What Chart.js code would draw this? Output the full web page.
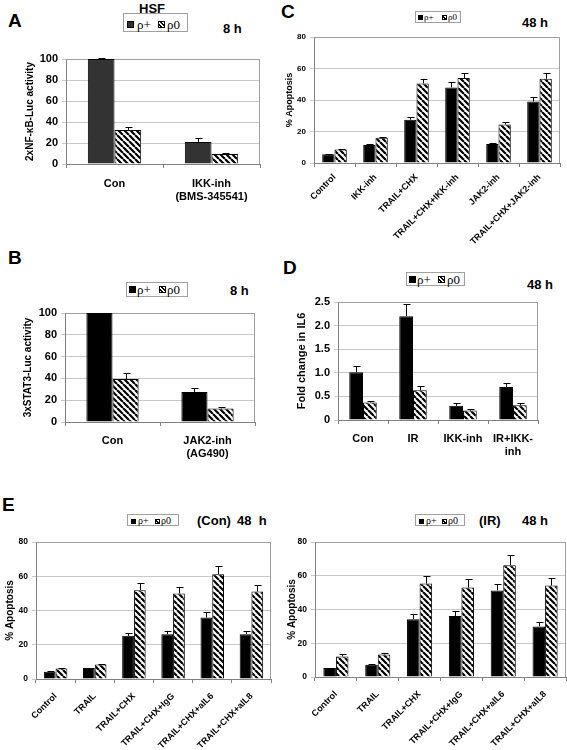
<!DOCTYPE html>
<html>
<head>
<meta charset="utf-8">
<script src="https://cdn.jsdelivr.net/npm/chart.js@4.4.1/dist/chart.umd.min.js"></script>
<style>
  body { margin: 0; background: #fff; width: 567px; height: 750px; position: relative; overflow: hidden;
         font-family: "Liberation Sans", Arial, sans-serif; }
  canvas { position: absolute; }
  .t { position: absolute; font-weight: bold; white-space: nowrap; color: #000; line-height: 1; }
  .letter { font-size: 19px; }
  .leg { position: absolute; border: 1px solid #a0a0a0; box-sizing: border-box; white-space: nowrap;
         font-family: "Liberation Serif", "DejaVu Serif", serif; color: #000; line-height: 1; }
  .leg span { position: absolute; }
  .sw { border: 1px solid #000; box-sizing: border-box; }
  .hat { background: repeating-linear-gradient(45deg, #fff 0 1.2px, #000 1.2px 2.6px); }
</style>
</head>
<body>

<div class="t letter" style="left:8px;top:11px">A</div>
<div class="t" style="left:139px;top:2px;font-size:13px">HSF</div>
<div class="leg" style="left:123px;top:13px;width:65px;height:19px;font-size:13px">
  <span class="sw" style="left:3px;top:7px;width:7px;height:7px;background:#333"></span>
  <span style="left:13px;top:4px">ρ+</span>
  <span class="sw hat" style="left:34px;top:7px;width:7px;height:7px"></span>
  <span style="left:43px;top:4px">ρ0</span>
</div>
<div class="t" style="left:223px;top:22px;font-size:13px">8 h</div>

<div class="t letter" style="left:8px;top:248px">B</div>
<div class="leg" style="left:126px;top:282px;width:62px;height:15px;font-size:13px">
  <span class="sw" style="left:2px;top:3px;width:7px;height:7px;background:#000"></span>
  <span style="left:10px;top:0px">ρ+</span>
  <span class="sw hat" style="left:32px;top:3px;width:7px;height:7px"></span>
  <span style="left:40px;top:0px">ρ0</span>
</div>
<div class="t" style="left:230px;top:284px;font-size:13px">8 h</div>

<div class="t letter" style="left:281px;top:2px">C</div>
<div class="leg" style="left:415px;top:11px;width:46px;height:12px;font-size:9px">
  <span class="sw" style="left:2px;top:3px;width:5px;height:5px;background:#000"></span>
  <span style="left:8px;top:1px">ρ+</span>
  <span class="sw hat" style="left:26px;top:3px;width:5px;height:5px"></span>
  <span style="left:32px;top:1px">ρ0</span>
</div>
<div class="t" style="left:522px;top:16px;font-size:13px">48 h</div>

<div class="t letter" style="left:283px;top:258px">D</div>
<div class="leg" style="left:406px;top:272px;width:59px;height:14px;font-size:13px">
  <span class="sw" style="left:2px;top:3px;width:7px;height:7px;background:#000"></span>
  <span style="left:10px;top:0px">ρ+</span>
  <span class="sw hat" style="left:31px;top:3px;width:7px;height:7px"></span>
  <span style="left:40px;top:0px">ρ0</span>
</div>
<div class="t" style="left:527px;top:278px;font-size:13px">48 h</div>

<div class="t letter" style="left:2px;top:495px">E</div>
<div class="leg" style="left:127px;top:514px;width:52px;height:12px;font-size:10px">
  <span class="sw" style="left:3px;top:4px;width:5px;height:5px;background:#000"></span>
  <span style="left:10px;top:1px">ρ+</span>
  <span class="sw hat" style="left:27px;top:4px;width:5px;height:5px"></span>
  <span style="left:33px;top:1px">ρ0</span>
</div>
<div class="t" style="left:197px;top:514px;font-size:13px">(Con)</div>
<div class="t" style="left:237px;top:514px;font-size:13px">48&nbsp;&nbsp;h</div>

<div class="leg" style="left:415px;top:514px;width:50px;height:12px;font-size:10px">
  <span class="sw" style="left:3px;top:4px;width:5px;height:5px;background:#000"></span>
  <span style="left:10px;top:1px">ρ+</span>
  <span class="sw hat" style="left:26px;top:4px;width:5px;height:5px"></span>
  <span style="left:32px;top:1px">ρ0</span>
</div>
<div class="t" style="left:479px;top:514px;font-size:13px">(IR)</div>
<div class="t" style="left:522px;top:514px;font-size:13px">48 h</div>

<script>
// ---- data ----
const seriesNames = ['ρ+', 'ρ0'];

// A: NF-kB reporter, 8 h
const aLabels = ['Con', ['IKK-inh', '(BMS-345541)']];
const aPlus = [100, 21];
const aPlusErr = [0.5, 4];
const aZero = [32.5, 9.5];
const aZeroErr = [3.2, 1.2];

// B: STAT3 reporter, 8 h
const bLabels = ['Con', ['JAK2-inh', '(AG490)']];
const bPlus = [100, 27.5];
const bPlusErr = [0.3, 3.5];
const bZero = [39.5, 12.5];
const bZeroErr = [5, 1.6];

// C: apoptosis, 48 h
const cLabels = ['Control', 'IKK-inh', 'TRAIL+CHX', 'TRAIL+CHX+IKK-inh', 'JAK2-inh', 'TRAIL+CHX+JAK2-inh'];
const cPlus = [5.5, 11.5, 27.5, 48, 12, 39];
const cPlusErr = [0.3, 0.4, 1.8, 3.6, 0.6, 3];
const cZero = [8.5, 16, 50.5, 54, 24.5, 53.5];
const cZeroErr = [0.5, 0.5, 3, 3.4, 1.3, 3.4];

// D: IL6 fold change, 48 h
const dLabels = ['Con', 'IR', 'IKK-inh', ['IR+IKK-', 'inh']];
const dPlus = [1.01, 2.2, 0.3, 0.7];
const dPlusErr = [0.13, 0.26, 0.05, 0.09];
const dZero = [0.37, 0.63, 0.2, 0.31];
const dZeroErr = [0.04, 0.09, 0.04, 0.05];

// E: apoptosis, 48 h, (Con) and (IR)
const eLabels = ['Control', 'TRAIL', 'TRAIL+CHX', 'TRAIL+CHX+IgG', 'TRAIL+CHX+aIL6', 'TRAIL+CHX+aIL8'];
const eConPlus = [4.3, 6.4, 25.2, 26.2, 35.9, 26.2];
const eConPlusErr = [0.3, 0.3, 1.6, 2.1, 3.1, 2.1];
const eConZero = [6.2, 8.5, 51.8, 49.9, 61.2, 51.1];
const eConZeroErr = [0.3, 0.4, 4.5, 4.1, 4.6, 4];
const eIrPlus = [5.3, 7.3, 34.2, 36.1, 51.3, 30];
const eIrPlusErr = [0.3, 0.6, 2.9, 3, 4.1, 2.6];
const eIrZero = [12.2, 13.4, 55.4, 53, 66.2, 54.2];
const eIrZeroErr = [1.2, 1.1, 4.7, 5, 6.1, 4.7];

// ---- helpers ----
function hatch(s, w) {
  const c = document.createElement('canvas');
  c.width = c.height = s;
  const g = c.getContext('2d');
  g.fillStyle = '#fff';
  g.fillRect(0, 0, s, s);
  g.strokeStyle = '#000';
  g.lineWidth = w;
  g.beginPath();
  for (let k = -1; k <= 1; k++) { g.moveTo(k * s, 0); g.lineTo(k * s + s, s); }
  g.stroke();
  return g.createPattern(c, 'repeat');
}

// one-sided error bars, drawn through the y scale
const errorBars = {
  id: 'errorBars',
  afterDatasetsDraw(chart) {
    const ctx = chart.ctx, y = chart.scales.y;
    chart.data.datasets.forEach((ds, i) => {
      chart.getDatasetMeta(i).data.forEach((bar, j) => {
        const e = ds.errors[j];
        if (!e) return;
        const x = Math.round(bar.x) + 0.5;
        const top = Math.round(y.getPixelForValue(ds.data[j] + e)) + 0.5;
        ctx.save();
        ctx.strokeStyle = '#000';
        ctx.lineWidth = 1;
        ctx.beginPath();
        ctx.moveTo(x, bar.y);
        ctx.lineTo(x, top);
        ctx.moveTo(x - 3, top);
        ctx.lineTo(x + 4, top);
        ctx.stroke();
        ctx.restore();
      });
    });
  }
};

// grey plot-area frame (Excel style)
const frame = {
  id: 'frame',
  beforeDatasetsDraw(chart) {
    const a = chart.chartArea, ctx = chart.ctx;
    ctx.save();
    ctx.strokeStyle = '#a0a0a0';
    ctx.lineWidth = 1;
    ctx.beginPath();
    ctx.moveTo(Math.round(a.left) + 0.5, Math.round(a.top) + 0.5);
    ctx.lineTo(Math.round(a.right) - 0.5, Math.round(a.top) + 0.5);
    ctx.lineTo(Math.round(a.right) - 0.5, Math.round(a.bottom));
    ctx.stroke();
    ctx.restore();
  }
};

function panel(box, plot, o) {
  const cv = document.createElement('canvas');
  cv.width = box.w; cv.height = box.h;
  cv.style.left = box.x + 'px';
  cv.style.top = box.y + 'px';
  document.body.appendChild(cv);
  const yW = plot.l - box.x;
  const xH = box.y + box.h - plot.b;
  const tf = o.titleSize;
  new Chart(cv, {
    type: 'bar',
    data: {
      labels: o.labels,
      datasets: [
        { label: seriesNames[0], data: o.plus, errors: o.plusErr, backgroundColor: o.dark || '#000',
          borderColor: '#000', borderWidth: 1 },
        { label: seriesNames[1], data: o.zero, errors: o.zeroErr, backgroundColor: hatch(o.hs, o.hw),
          borderColor: '#000', borderWidth: 1 }
      ]
    },
    options: {
      responsive: false,
      animation: false,
      layout: { padding: { left: 0, top: plot.t - box.y, right: box.x + box.w - plot.r, bottom: 0 } },
      plugins: { legend: { display: false }, tooltip: { enabled: false } },
      datasets: { bar: { categoryPercentage: o.cat, barPercentage: 1 } },
      scales: {
        x: {
          afterFit(s) { s.height = xH; },
          grid: { offset: true, drawOnChartArea: false, color: '#808080', tickLength: 4 },
          border: { color: '#808080' },
          ticks: { color: '#000', font: { family: 'Liberation Sans', weight: 'bold', size: o.xSize },
                   maxRotation: o.rot, minRotation: o.rot, autoSkip: false, padding: o.xPad }
        },
        y: {
          min: 0, max: o.max,
          afterFit(s) { s.width = yW; },
          grid: { color: '#c8c8c8', tickLength: 4 },
          border: { color: '#808080' },
          ticks: { stepSize: o.step, color: '#000', padding: 4,
                   font: { family: 'Liberation Sans', weight: 'bold', size: o.ySize } },
          title: { display: true, text: o.ytitle, color: '#000',
                   font: { family: 'Liberation Sans', weight: 'bold', size: tf },
                   padding: { top: o.titleX - box.x - tf * 0.6, bottom: 0 } }
        }
      }
    },
    plugins: [frame, errorBars]
  });
}

// A
panel({ x: 15, y: 45, w: 255, h: 161 }, { l: 66, t: 59, r: 260, b: 164 }, {
  labels: aLabels, plus: aPlus, plusErr: aPlusErr, zero: aZero, zeroErr: aZeroErr, dark: '#333',
  max: 100, step: 20, ytitle: '2xNF-κB-Luc activity', titleX: 30, titleSize: 10,
  ySize: 11, xSize: 11, xPad: 9, rot: 0, cat: 0.55, hs: 6, hw: 2.2
});

// B
panel({ x: 15, y: 300, w: 250, h: 162 }, { l: 65, t: 313, r: 255, b: 422 }, {
  labels: bLabels, plus: bPlus, plusErr: bPlusErr, zero: bZero, zeroErr: bZeroErr,
  max: 100, step: 20, ytitle: '3xSTAT3-Luc activity', titleX: 28, titleSize: 10,
  ySize: 11, xSize: 11, xPad: 8, rot: 0, cat: 0.55, hs: 6, hw: 2.2
});

// C
panel({ x: 284, y: 28, w: 282, h: 222 }, { l: 314, t: 37, r: 560, b: 163 }, {
  labels: cLabels, plus: cPlus, plusErr: cPlusErr, zero: cZero, zeroErr: cZeroErr,
  max: 80, step: 20, ytitle: '% Apoptosis', titleX: 290, titleSize: 9,
  ySize: 8, xSize: 9, xPad: 5, rot: 45, cat: 0.6, hs: 6, hw: 2.2
});

// D
panel({ x: 290, y: 290, w: 258, h: 170 }, { l: 338, t: 302, r: 538, b: 420 }, {
  labels: dLabels, plus: dPlus, plusErr: dPlusErr, zero: dZero, zeroErr: dZeroErr,
  max: 2.5, step: 0.5, ytitle: 'Fold change in IL6', titleX: 302, titleSize: 11,
  ySize: 11, xSize: 11, xPad: 8, rot: 0, cat: 0.55, hs: 6, hw: 2.2
});

// E (Con)
panel({ x: 3, y: 532, w: 276, h: 218 }, { l: 36, t: 542, r: 271, b: 679 }, {
  labels: eLabels, plus: eConPlus, plusErr: eConPlusErr, zero: eConZero, zeroErr: eConZeroErr,
  max: 80, step: 20, ytitle: '% Apoptosis', titleX: 10, titleSize: 10,
  ySize: 8.5, xSize: 9, xPad: 8, rot: 45, cat: 0.6, hs: 6, hw: 2.2
});

// E (IR)
panel({ x: 285, y: 532, w: 282, h: 218 }, { l: 315, t: 542, r: 566, b: 677 }, {
  labels: eLabels, plus: eIrPlus, plusErr: eIrPlusErr, zero: eIrZero, zeroErr: eIrZeroErr,
  max: 80, step: 20, ytitle: '% Apoptosis', titleX: 292, titleSize: 10,
  ySize: 8.5, xSize: 9, xPad: 8, rot: 45, cat: 0.6, hs: 6, hw: 2.2
});
</script>
</body>
</html>
